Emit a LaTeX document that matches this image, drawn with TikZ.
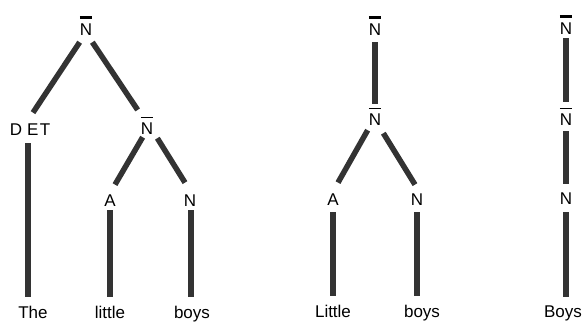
\documentclass[tikz,border=0pt]{standalone}
\usepackage{fontspec}
\setmainfont{Liberation Sans}
% N with a bar over it: #1 = bar thickness, #2 = gap to the letter
\newcommand{\barredN}[2]{\vbox{\hrule height #1\kern #2\hbox{N}}}
\tikzset{
  cat/.style={font=\fontsize{17}{17}\selectfont, inner sep=0pt, anchor=base},
  branch/.style={line width=5.5pt, draw=black!80},
}
\begin{document}
\begin{tikzpicture}[x=1pt,y=-1pt]
\useasboundingbox (0,0) rectangle (584,322);

% ---- The little boys ----
\node[cat] (t1)  at (86,35)   {\barredN{3.5pt}{4pt}};
\node[cat] (det) at (30,135)  {D\hspace{5pt}E\hspace{1.5pt}T};
\node[cat] (n1b) at (147,134) {\barredN{1.2pt}{4pt}};
\node[cat] (a1)  at (110,206) {A};
\node[cat] (n1)  at (190,206) {N};
\node[cat] (w1)  at (33,318)  {The};
\node[cat] (w2)  at (110,318) {little};
\node[cat] (w3)  at (192,318) {boys};

\draw[branch] ([shift={(0,7)}]t1.south west) -- ([shift={(3,-10.5)}]det.north);
\draw[branch] ([shift={(0,7)}]t1.south east) -- ([shift={(-3,-7)}]n1b.north west);
\draw[branch] ([shift={(-2,8)}]det.south) -- ([shift={(-5,-8)}]w1.north);
\draw[branch] ([shift={(2,3)}]n1b.south west) -- ([shift={(5,-9.5)}]a1.north);
\draw[branch] ([shift={(4,4)}]n1b.south east) -- ([shift={(-5,-11.5)}]n1.north);
\draw[branch] ([shift={(0,4)}]a1.south) -- ([shift={(0,-8)}]w2.north);
\draw[branch] ([shift={(1,4)}]n1.south) -- ([shift={(-1,-8)}]w3.north);

% ---- Little boys ----
\node[cat] (t2) at (375,35)  {\barredN{3.5pt}{4pt}};
\node[cat] (m2) at (375,125) {\barredN{1.2pt}{4pt}};
\node[cat] (a2) at (333,205) {A};
\node[cat] (n2) at (417,205) {N};
\node[cat] (w4) at (333,317) {Little};
\node[cat] (w5) at (422,317) {boys};

\draw[branch] ([shift={(0,7)}]t2.south) -- ([shift={(0,-4)}]m2.north);
\draw[branch] ([shift={(-1,5)}]m2.south west) -- ([shift={(5,-10.5)}]a2.north);
\draw[branch] ([shift={(2,8)}]m2.south east) -- ([shift={(-2,-8.5)}]n2.north);
\draw[branch] ([shift={(0,7)}]a2.south) -- ([shift={(0,-8)}]w4.north);
\draw[branch] ([shift={(0,7)}]n2.south) -- ([shift={(-5,-8)}]w5.north);

% ---- Boys ----
\node[cat] (t3) at (566,34)  {\barredN{3.5pt}{4pt}};
\node[cat] (m3) at (566,125) {\barredN{1.2pt}{4pt}};
\node[cat] (n3) at (566,204) {N};
\node[cat] (w6) at (563,317) {Boys};

\draw[branch] ([shift={(0,4)}]t3.south) -- ([shift={(0,-6)}]m3.north);
\draw[branch] ([shift={(0,6)}]m3.south) -- ([shift={(0,-8)}]n3.north);
\draw[branch] ([shift={(0,8)}]n3.south) -- ([shift={(3,-8.5)}]w6.north);
\end{tikzpicture}
\end{document}
